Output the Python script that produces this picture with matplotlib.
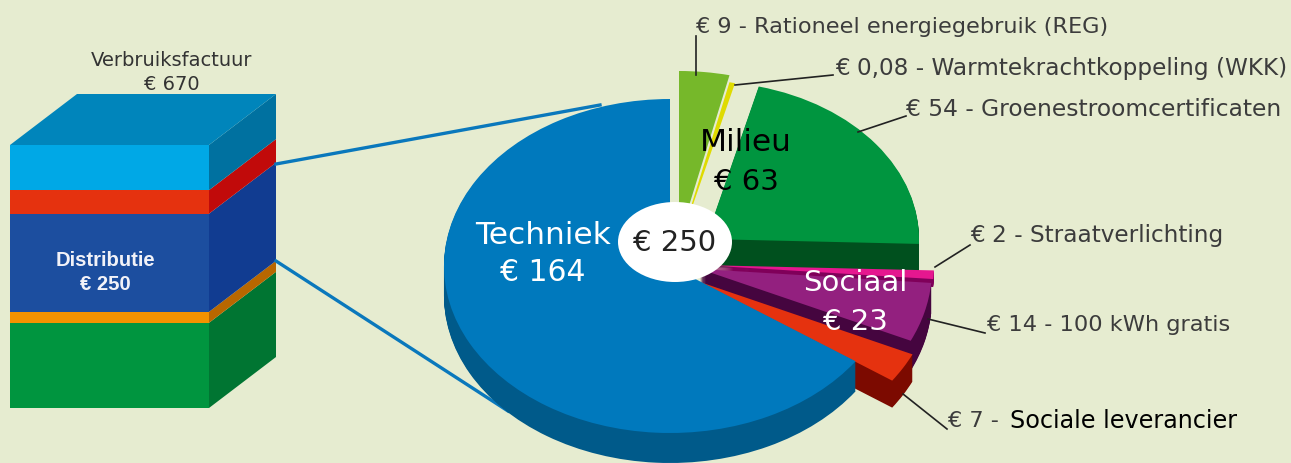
import matplotlib
matplotlib.use("Agg")
import matplotlib.pyplot as plt
from matplotlib.patches import Wedge, Ellipse
import numpy as np

# ---- data ----
cube_layers = ["Groen", "Oranje", "Distributie", "Rood", "Lichtblauw"]
cube_values = [217, 28, 250, 60, 115]
cube_total = 670

slice_names = ["REG", "WKK", "Groenestroomcertificaten", "Straatverlichting",
               "100 kWh gratis", "Sociale leverancier", "Techniek"]
slice_values = [9, 0.08, 54, 2, 14, 7, 164]
min_visible = 1.0      # the 0,08 sliver is drawn wide enough to be seen

# ---- style ----
W, H = 1291, 464
BG = "#e6ecd0"
cube_front = ["#00953f", "#f39200", "#1c4e9f", "#e5320f", "#00a8e6"]
cube_side = ["#007532", "#b86700", "#113c91", "#c10a0a", "#0071a0"]
cube_top = "#0085bb"
slice_top = ["#76b82a", "#dfdb00", "#00953f", "#e5178f", "#93207f", "#e5320f", "#0079bd"]
slice_dark = ["#5c9420", "#a8a500", "#00501e", "#80005a", "#45053f", "#7c0a00", "#005a8a"]
slice_center = [(679, 239), (679, 246), (706, 240), (700, 266), (700, 270), (700, 283), (670, 267)]
slice_radius = [226, 226, 213, 234, 232, 234, 226]
slice_depth = [0, 0, 28, 8, 30, 27, 30]
draw_order = [0, 1, 2, 3, 4, 5, 6]
K = 226 / 167

fig = plt.figure(figsize=(W / 100, H / 100), dpi=100, facecolor=BG)

# ---- cube: front by stacked bars, sides from the same values ----
ax_c = fig.add_axes([10 / W, (H - 409) / H, 199 / W, 263 / H], zorder=1)
ax_c.set_xlim(0, 1)
ax_c.set_ylim(0, cube_total)
ax_c.axis("off")
dx, dy = 67 / 199, 51 / 263 * cube_total
bottom = 0
for v, cf, cs in zip(cube_values, cube_front, cube_side):
    ax_c.bar(0.5, v, width=1, bottom=bottom, color=cf, linewidth=0, clip_on=False)
    ax_c.fill([1, 1 + dx, 1 + dx, 1],
              [bottom, bottom + dy, bottom + v + dy, bottom + v],
              color=cs, linewidth=0, clip_on=False)
    bottom += v
ax_c.fill([0, 1, 1 + dx, dx],
          [bottom, bottom, bottom + dy, bottom + dy],
          color=cube_top, linewidth=0, clip_on=False)

# ---- pixel overlay for connector lines ----
ax_l = fig.add_axes([0, 0, 1, 1], zorder=2)
ax_l.set_xlim(0, W)
ax_l.set_ylim(H, 0)
ax_l.axis("off")
ax_l.plot([276, 600], [165, 106], color="#0a78bc", lw=2.4)
ax_l.plot([276, 508], [262, 412], color="#0a78bc", lw=2.4)

# ---- exploded elliptical pie ----
ax_p = fig.add_axes([0, 0, 1, 1], zorder=3)
display_values = np.maximum(slice_values, min_visible)
wedges, _ = ax_p.pie(display_values, startangle=90, counterclock=False,
                     radius=226, colors=slice_top, wedgeprops={"linewidth": 0})
ax_p.set_aspect("auto")
ax_p.set_xlim(0, W)
ax_p.set_ylim(0, H * K)
ax_p.axis("off")
for z, i in enumerate(draw_order):
    w = wedges[i]
    cx, cy = slice_center[i]
    r = slice_radius[i]
    for d in range(slice_depth[i], 0, -1):
        ax_p.add_patch(Wedge((cx, (H - cy - d) * K), r, w.theta1, w.theta2,
                             facecolor=slice_dark[i], linewidth=0, zorder=10 + 2 * z))
    w.set_center((cx, (H - cy) * K))
    w.set_radius(r)
    w.set_zorder(11 + 2 * z)
ax_p.set_xlim(0, W)
ax_p.set_ylim(0, H * K)
ax_p.add_patch(Ellipse((675, (H - 243) * K), 114, 80 * K, facecolor="white",
                       linewidth=0, zorder=40))

# ---- texts and leader lines ----
ax_t = fig.add_axes([0, 0, 1, 1], zorder=4)
ax_t.set_xlim(0, W)
ax_t.set_ylim(H, 0)
ax_t.axis("off")

leaders = [([696, 696], [37, 76]), ([735, 833], [86, 76]), ([858, 906], [133, 117]),
           ([935, 970], [268, 246]), ([928, 985], [320, 334]), ([903, 947], [395, 430])]
for xs, ys in leaders:
    ax_t.plot(xs, ys, color="#222222", lw=1.2)

GREY = "#3c3c3c"
LBL = dict(family="DejaVu Sans", color=GREY, va="center", ha="left")
ax_t.text(696, 27, "€ 9 - Rationeel energiegebruik (REG)", fontsize=16.1, **LBL)
ax_t.text(835, 68, "€ 0,08 - Warmtekrachtkoppeling (WKK)", fontsize=16.7, **LBL)
ax_t.text(906, 109, "€ 54 - Groenestroomcertificaten", fontsize=16.8, **LBL)
ax_t.text(970, 236, "€ 2 - Straatverlichting", fontsize=16.7, **LBL)
ax_t.text(987, 325, "€ 14 - 100 kWh gratis", fontsize=16.2, **LBL)
ax_t.text(948, 421, "€ 7 -", fontsize=16.2, **LBL)
ax_t.text(1010, 421, "Sociale leverancier", family="DejaVu Sans", fontsize=17.2,
          color="black", va="center", ha="left")

BIG = dict(family="DejaVu Sans", va="center", ha="center")
ax_t.text(543, 236, "Techniek", color="white", fontsize=22.5, **BIG)
ax_t.text(543, 273, "€ 164", color="white", fontsize=21.5, **BIG)
ax_t.text(746, 143, "Milieu", color="black", fontsize=22.5, **BIG)
ax_t.text(746, 182, "€ 63", color="black", fontsize=21, **BIG)
ax_t.text(855, 283, "Sociaal", color="white", fontsize=21, **BIG)
ax_t.text(855, 322, "€ 23", color="white", fontsize=21, **BIG)
ax_t.text(675, 243, "€ 250", color="#222222", fontsize=21, **BIG)

ax_t.text(172, 60, "Verbruiksfactuur", family="DejaVu Sans", fontsize=14,
          color="#333333", va="center", ha="center")
ax_t.text(172, 85, "€ 670", family="DejaVu Sans", fontsize=14,
          color="#333333", va="center", ha="center")
ax_t.text(105, 261, "Distributie", family="Liberation Sans", fontsize=14.6, weight="bold",
          color="#f2f2f8", va="center", ha="center")
ax_t.text(105, 285, "€ 250", family="Liberation Sans", fontsize=14.6, weight="bold",
          color="#f2f2f8", va="center", ha="center")

fig.savefig("out.png", dpi=100, facecolor=BG)
